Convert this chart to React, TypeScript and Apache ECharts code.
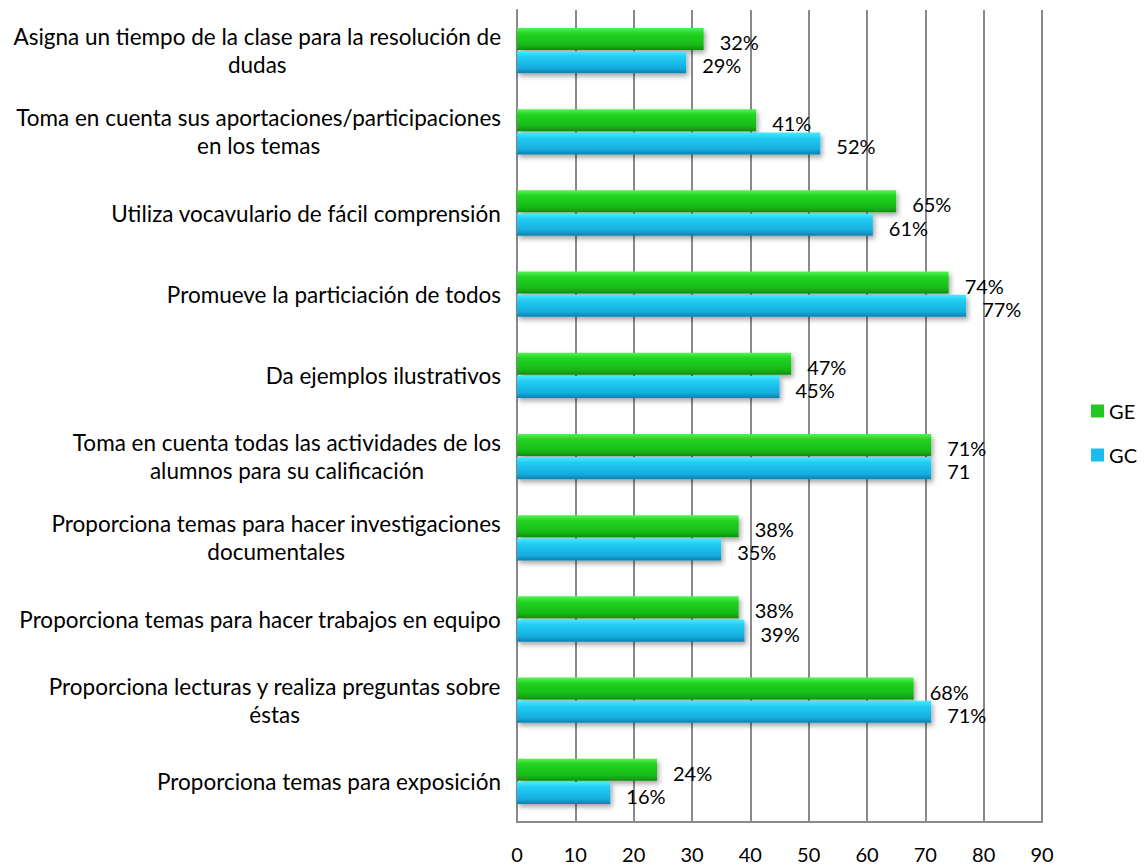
import React, { useEffect, useRef } from "react";
import * as echarts from "echarts";

const categories = [
  "Asigna un tiempo de la clase para la resolución de\ndudas",
  "Toma en cuenta sus aportaciones/participaciones\nen los temas",
  "Utiliza vocavulario de fácil comprensión",
  "Promueve la particiación de todos",
  "Da ejemplos ilustrativos",
  "Toma en cuenta todas las actividades de los\nalumnos para su calificación",
  "Proporciona temas para hacer investigaciones\ndocumentales",
  "Proporciona temas para hacer trabajos en equipo",
  "Proporciona lecturas y realiza preguntas sobre\néstas",
  "Proporciona temas para exposición",
];

const geValues = [32, 41, 65, 74, 47, 71, 38, 38, 68, 24];
const gcValues = [29, 52, 61, 77, 45, 71, 35, 39, 71, 16];

const geLabels = ["32%", "41%", "65%", "74%", "47%", "71%", "38%", "38%", "68%", "24%"];
const gcLabels = ["29%", "52%", "61%", "77%", "45%", "71", "35%", "39%", "71%", "16%"];

const xTicks = { min: 0, max: 90, interval: 10 };

const FONT = "Lato, 'Open Sans', sans-serif";

export default function App() {
  const ref = useRef<HTMLDivElement>(null);

  useEffect(() => {
    if (!ref.current) return;
    const chart = echarts.init(ref.current, null, { renderer: "svg" });

    const green = new echarts.graphic.LinearGradient(0, 0, 0, 1, [
      { offset: 0, color: "#55f255" },
      { offset: 0.25, color: "#22d422" },
      { offset: 0.75, color: "#18bb18" },
      { offset: 1, color: "#0f8f0f" },
    ]);
    const blue = new echarts.graphic.LinearGradient(0, 0, 0, 1, [
      { offset: 0, color: "#45eaff" },
      { offset: 0.25, color: "#22ccf2" },
      { offset: 0.75, color: "#16aee0" },
      { offset: 1, color: "#0c82b0" },
    ]);

    const labelCommon = {
      show: true,
      position: "right" as const,
      distance: 16,
      color: "#000",
      fontFamily: FONT,
      fontSize: 20,
      offset: [0, 3],
    };

    const barShadow = {
      shadowBlur: 5,
      shadowOffsetX: 2,
      shadowOffsetY: 3,
      shadowColor: "rgba(0,0,0,0.35)",
    };

    chart.setOption({
      animation: false,
      backgroundColor: "#fff",
      grid: { left: 517, right: 106, top: 10, bottom: 43, containLabel: false },
      legend: {
        orient: "vertical",
        right: 6,
        top: 396,
        itemWidth: 13,
        itemHeight: 13,
        itemGap: 24,
        textStyle: { fontFamily: FONT, fontSize: 20, color: "#000" },
        icon: "rect",
        data: [
          { name: "GE", itemStyle: { color: "#22c822" } },
          { name: "GC", itemStyle: { color: "#1cbdee" } },
        ],
      },
      xAxis: {
        type: "value",
        min: xTicks.min,
        max: xTicks.max,
        interval: xTicks.interval,
        axisLine: { show: true, lineStyle: { color: "#8a8a8a", width: 2 } },
        axisTick: { show: false },
        splitLine: { show: true, lineStyle: { color: "#8a8a8a", width: 2 } },
        axisLabel: { color: "#000", fontFamily: FONT, fontSize: 20, margin: 22 },
      },
      yAxis: {
        type: "category",
        data: categories,
        inverse: true,
        axisLine: { show: true, lineStyle: { color: "#8a8a8a", width: 2 } },
        axisTick: { show: false },
        splitLine: { show: false },
        axisLabel: {
          margin: 16,
          color: "#000",
          fontFamily: FONT,
          fontSize: 22.5,
          lineHeight: 28,
          formatter: (v: string) =>
            v
              .split("\n")
              .map((l) => `{c|${l}}`)
              .join("\n"),
          rich: {
            c: {
              align: "center",
              fontFamily: FONT,
              fontSize: 22.5,
              lineHeight: 28,
              color: "#000",
            },
          },
        },
      },
      series: [
        {
          name: "GE",
          type: "bar",
          data: geValues,
          barWidth: 22,
          barGap: "6%",
          itemStyle: { color: green, ...barShadow },
          label: {
            ...labelCommon,
            formatter: (p: any) => geLabels[p.dataIndex],
          },
        },
        {
          name: "GC",
          type: "bar",
          data: gcValues,
          barWidth: 22,
          itemStyle: { color: blue, ...barShadow },
          label: {
            ...labelCommon,
            formatter: (p: any) => gcLabels[p.dataIndex],
          },
        },
      ],
    });

    return () => chart.dispose();
  }, []);

  return <div ref={ref} style={{ width: 1148, height: 865, position: "absolute", left: 0, top: 0 }} />;
}
